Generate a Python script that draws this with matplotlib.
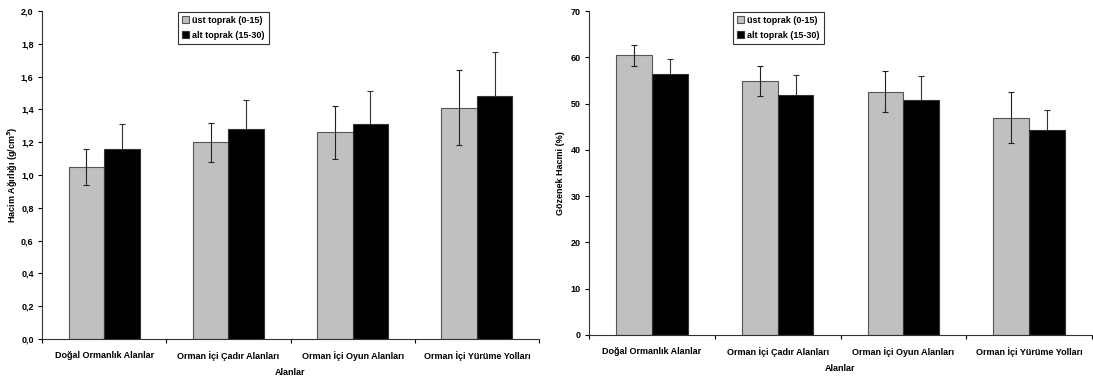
import matplotlib
matplotlib.use("Agg")
import matplotlib.pyplot as plt
import numpy as np
from matplotlib.ticker import FuncFormatter, FixedLocator

plt.rcParams['font.family'] = ['Liberation Sans', 'DejaVu Sans']
plt.rcParams['font.weight'] = 'bold'

categories = ["Doğal Ormanlık Alanlar", "Orman İçi Çadır Alanları",
              "Orman İçi Oyun Alanları", "Orman İçi Yürüme Yolları"]
series_names = ["üst toprak (0-15)", "alt toprak (15-30)"]

bulk_top = [1.05, 1.20, 1.26, 1.41]
bulk_top_err = [0.11, 0.12, 0.16, 0.23]
bulk_sub = [1.16, 1.28, 1.31, 1.48]
bulk_sub_err = [0.15, 0.18, 0.20, 0.27]

por_top = [60.4, 54.9, 52.6, 46.9]
por_top_err = [2.35, 3.3, 4.35, 5.5]
por_sub = [56.4, 51.8, 50.7, 44.3]
por_sub_err = [3.3, 4.3, 5.3, 4.4]

W, H = 1093, 379
FS = 6.5
fig = plt.figure(figsize=(W / 100, H / 100), dpi=100)

def make_axes(rect, top, top_err, sub, sub_err, ylim, yticks, fmt, ylabel, legend_xy, ylabelpad):
    ax = fig.add_axes(rect)
    x = np.arange(len(categories))
    bw = 0.285
    ax.bar(x - bw / 2, top, bw, color='#C0C0C0', edgecolor='#555555', linewidth=0.8,
           label=series_names[0], zorder=2)
    ax.bar(x + bw / 2, sub, bw, color='black', edgecolor='#333333', linewidth=0.8,
           label=series_names[1], zorder=2)
    ax.errorbar(x - bw / 2, top, yerr=top_err, fmt='none', ecolor='#222222',
                elinewidth=0.8, capsize=2, capthick=0.8, zorder=3)
    ax.errorbar(x + bw / 2, sub, yerr=sub_err, fmt='none', ecolor='#333333',
                elinewidth=0.8, capsize=2, capthick=0.8, zorder=1)
    ax.set_xlim(-0.5, len(categories) - 0.5)
    ax.set_ylim(*ylim)
    ax.set_yticks(yticks)
    ax.yaxis.set_major_formatter(FuncFormatter(fmt))
    ax.set_xticks(x)
    ax.set_xticklabels(categories, fontsize=FS, fontweight='bold')
    ax.tick_params(axis='x', length=0, pad=9)
    ax.xaxis.set_minor_locator(FixedLocator(np.arange(-0.5, len(categories), 1.0)))
    ax.tick_params(axis='x', which='minor', length=3, width=0.8, direction='out')
    ax.tick_params(axis='y', length=3, width=0.8, direction='out', labelsize=FS, pad=3)
    for lab in ax.get_yticklabels():
        lab.set_fontweight('bold')
    for s in ['top', 'right']:
        ax.spines[s].set_visible(False)
    for s in ['left', 'bottom']:
        ax.spines[s].set_linewidth(0.8)
        ax.spines[s].set_color('#333333')
    ax.set_xlabel("Alanlar", fontsize=FS, fontweight='bold', labelpad=5)
    ax.set_ylabel(ylabel, fontsize=FS, fontweight='bold', labelpad=ylabelpad)
    leg = ax.legend(loc='upper left', bbox_to_anchor=legend_xy, bbox_transform=fig.transFigure,
                    frameon=True, fancybox=False, fontsize=FS,
                    handlelength=0.8, handleheight=0.8, handletextpad=0.3,
                    borderpad=0.45, labelspacing=0.65, borderaxespad=0)
    leg.get_frame().set_edgecolor('black')
    leg.get_frame().set_linewidth(0.8)
    for t in leg.get_texts():
        t.set_fontweight('bold')
    return ax

make_axes([42 / W, 40 / H, 497 / W, 328 / H], bulk_top, bulk_top_err, bulk_sub, bulk_sub_err,
          (0, 2.0), np.arange(0, 2.01, 0.2), lambda v, p: f"{v:.1f}".replace('.', ','),
          "Hacim Ağırlığı (g/cm$^\\mathbf{3}$)",
          (178 / W, (H - 12) / H), 1)
make_axes([589 / W, 44 / H, 503 / W, 324 / H], por_top, por_top_err, por_sub, por_sub_err,
          (0, 70), np.arange(0, 71, 10), lambda v, p: f"{v:.0f}",
          "Gözenek Hacmi (%)",
          (733 / W, (H - 12) / H), 4)

fig.savefig("out.png", dpi=100)
